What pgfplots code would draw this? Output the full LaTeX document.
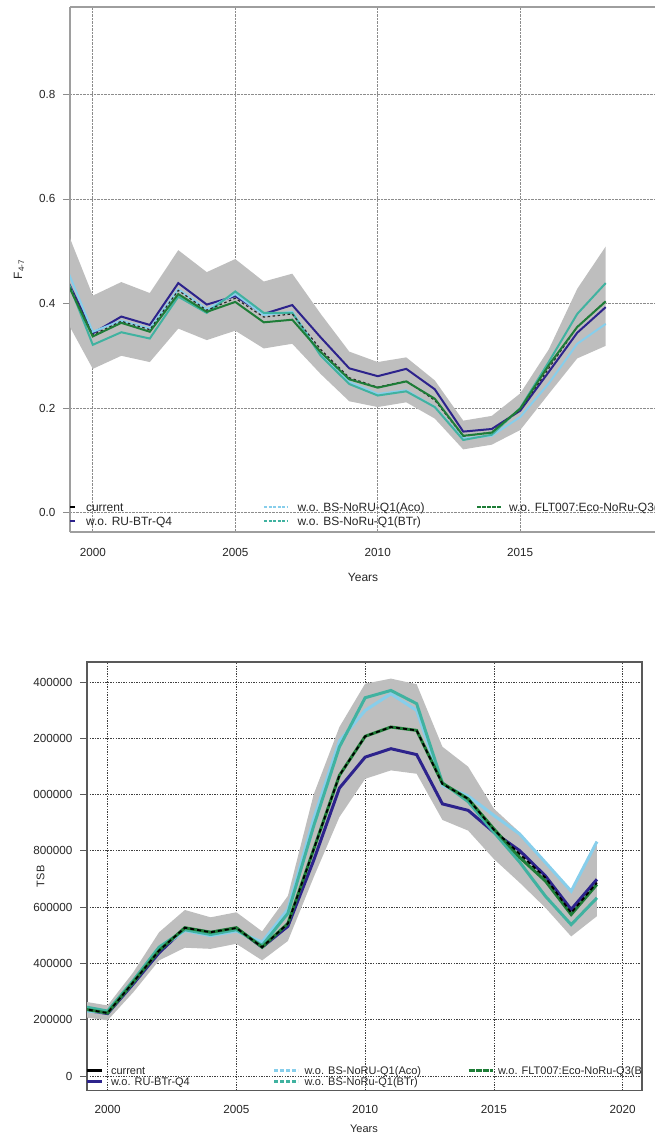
\documentclass[border=0pt]{standalone}
\usepackage{pgfplots}
\pgfplotsset{compat=1.18}
\usepackage{pgfplotstable}
\usepgfplotslibrary{fillbetween}
\usepackage{fontspec}
\setmainfont{Liberation Sans}
\definecolor{cRU}{RGB}{45,35,140}
\definecolor{cAco}{RGB}{135,206,235}
\definecolor{cBTr}{RGB}{64,178,160}
\definecolor{cFLT}{RGB}{30,125,55}
\definecolor{cBand}{RGB}{190,190,190}
\newcommand\strutT{\rule[-3.3pt]{0pt}{13.3pt}}
\newcommand\strutB{\rule[-2.8pt]{0pt}{11.3pt}}
\pgfplotsset{
  stubT/.style={legend image code/.code={\draw[##1] (19pt,0pt) -- (24pt,0pt);}},
  fullT/.style={legend image code/.code={\draw[##1] (0pt,0pt) -- (24pt,0pt);}},
  stubB/.style={legend image code/.code={\draw[##1] (9pt,0pt) -- (24pt,0pt);}},
  fullB/.style={legend image code/.code={\draw[##1] (0pt,0pt) -- (24pt,0pt);}},
}
\pgfplotstableread{
year cur ru aco btr flt lo hi
1999 0.455 0.457 0.478 0.460 0.451 0.375 0.552
2000 0.340 0.343 0.346 0.321 0.337 0.275 0.415
2001 0.366 0.375 0.367 0.345 0.363 0.300 0.441
2002 0.350 0.359 0.352 0.333 0.346 0.288 0.420
2003 0.425 0.439 0.427 0.413 0.418 0.352 0.502
2004 0.387 0.398 0.389 0.382 0.384 0.330 0.460
2005 0.410 0.414 0.418 0.423 0.403 0.348 0.485
2006 0.374 0.380 0.378 0.382 0.364 0.314 0.442
2007 0.380 0.397 0.384 0.382 0.369 0.323 0.457
2008 0.312 0.335 0.303 0.300 0.307 0.265 0.380
2009 0.258 0.276 0.250 0.246 0.255 0.213 0.308
2010 0.240 0.261 0.227 0.224 0.239 0.202 0.288
2011 0.252 0.275 0.234 0.232 0.251 0.211 0.297
2012 0.215 0.236 0.202 0.202 0.218 0.180 0.253
2013 0.146 0.155 0.142 0.139 0.147 0.121 0.176
2014 0.154 0.160 0.147 0.149 0.153 0.130 0.185
2015 0.197 0.195 0.183 0.200 0.199 0.158 0.228
2016 0.276 0.269 0.247 0.288 0.282 0.227 0.312
2017 0.355 0.344 0.323 0.380 0.355 0.295 0.428
2018 0.405 0.393 0.361 0.439 0.404 0.319 0.509
}\Ftab
\pgfplotstableread{
year cur ru aco btr flt lo hi
1999 240000 236000 232000 248000 239000 210000 266000
2000 224000 222000 226000 231000 224000 198000 251000
2001 334000 328000 335000 340000 334000 298000 369000
2002 446000 438000 452000 458000 446000 411000 511000
2003 527000 525000 517000 520000 527000 456000 590000
2004 511000 510000 499000 503000 511000 452000 564000
2005 526000 525000 515000 520000 527000 470000 582000
2006 458000 458000 476000 464000 458000 411000 514000
2007 542000 532000 592000 578000 542000 480000 640000
2008 805000 766000 914000 888000 805000 706000 1000000
2009 1068000 1023000 1190000 1169000 1068000 920000 1240000
2010 1207000 1133000 1299000 1344000 1207000 1056000 1394000
2011 1240000 1163000 1358000 1370000 1240000 1086000 1412000
2012 1228000 1142000 1299000 1323000 1228000 1074000 1392000
2013 1038000 967000 1033000 1042000 1040000 910000 1170000
2014 985000 944000 995000 975000 985000 872000 1099000
2015 875000 866000 926000 866000 878000 771000 950000
2016 789000 801000 860000 760000 777000 687000 866000
2017 705000 711000 759000 639000 693000 598000 753000
2018 580000 592000 657000 538000 574000 496000 663000
2019 687000 699000 833000 633000 681000 568000 836000
}\Btab
\begin{document}
\begin{tikzpicture}
% ---------------- top: F4-7 ----------------
\begin{axis}[
  at={(70pt,-532pt)}, anchor=south west,
  scale only axis, width=585pt, height=525pt,
  xmin=1999.2, xmax=2019.73, ymin=-0.037, ymax=0.967,
  axis x line*=box, axis y line*=left,
  axis line style={draw=black!38, line width=1.5pt},
  xtick={2000,2005,2010,2015}, xticklabels={2000,2005,2010,2015},
  ytick={0,0.2,0.4,0.6,0.8}, yticklabels={0.0,0.2,0.4,0.6,0.8},
  xmajorgrids, ymajorgrids,
  major grid style={densely dotted, black!45, line width=0.7pt},
  xtick style={draw=none}, ytick style={draw=black!45, line width=0.8pt},
  tick align=outside, major tick length=7pt,
  ticklabel style={font=\fontsize{11.7}{14}\selectfont, text=black!85},
  xticklabel style={yshift=-6pt},
  yticklabel style={xshift=-4pt},
  xlabel={Years}, ylabel={F\textsubscript{4-7}},
  xlabel style={at={(axis description cs:0.501,-0.0857)}, anchor=center, font=\fontsize{12}{14}\selectfont, text=black!85},
  ylabel style={at={(axis description cs:-0.0872,0.5)}, anchor=center, font=\fontsize{12}{14}\selectfont, text=black!85},
  legend columns=3, legend cell align=left,
  legend style={at={(axis description cs:0,0.0585)}, anchor=north west, xshift=-1pt, draw=none, fill=none,
    inner sep=0pt, outer sep=0pt, row sep=2.3pt, column sep=0pt,
    font=\fontsize{12}{13}\selectfont, text=black!85, nodes={inner sep=0pt, outer sep=0pt}},
]
\addplot[name path=hi, draw=none, forget plot] table[x=year,y=hi]{\Ftab};
\addplot[name path=lo, draw=none, forget plot] table[x=year,y=lo]{\Ftab};
\addplot[cBand, forget plot] fill between[of=hi and lo];
\addplot[cRU, line width=2pt, forget plot] table[x=year,y=ru]{\Ftab};
\addplot[cAco, line width=2pt, forget plot] table[x=year,y=aco]{\Ftab};
\addplot[cBTr, line width=2pt, forget plot] table[x=year,y=btr]{\Ftab};
\addplot[black!85, line width=1.2pt, dash pattern=on 2.5pt off 2.5pt, forget plot] table[x=year,y=cur]{\Ftab};
\addplot[cFLT, line width=2pt, forget plot] table[x=year,y=flt]{\Ftab};
\addlegendimage{stubT, black, line width=2pt}
\addlegendentry{\hspace*{10pt}\makebox[177pt][l]{\strutT current}}
\addlegendimage{fullT, cAco, line width=1.5pt, dash pattern=on 3pt off 1.5pt}
\addlegendentry{\hspace*{8.5pt}\makebox[178.5pt][l]{\strutT w.o. BS-NoRU-Q1(Aco)}}
\addlegendimage{fullT, cFLT, line width=2pt, dash pattern=on 4pt off 1pt}
\addlegendentry{\hspace*{7pt}\makebox[10pt][l]{\strutT w.o. FLT007:Eco-NoRu-Q3(B}}
\addlegendimage{stubT, cRU, line width=2pt}
\addlegendentry{\hspace*{10pt}\makebox[177pt][l]{\strutT w.o. RU-BTr-Q4}}
\addlegendimage{fullT, cBTr, line width=2pt, dash pattern=on 3pt off 1.5pt}
\addlegendentry{\hspace*{8.5pt}\makebox[178.5pt][l]{\strutT w.o. BS-NoRu-Q1(BTr)}}
\end{axis}
% ---------------- bottom: TSB ----------------
\begin{axis}[
  at={(87pt,-1090.7pt)}, anchor=south west,
  scale only axis, width=555pt, height=428.7pt,
  xmin=1999.2, xmax=2020.75, ymin=-52000, ymax=1471000,
  axis line style={draw=black!65, line width=1.5pt},
  xtick={2000,2005,2010,2015,2020}, xticklabels={2000,2005,2010,2015,2020},
  ytick={0,200000,400000,600000,800000,1000000,1200000,1400000},
  yticklabels={0,200000,400000,600000,800000,000000,200000,400000},
  scaled y ticks=false, ytick pos=left,
  xmajorgrids, ymajorgrids,
  major grid style={dash pattern=on 1.3pt off 1.3pt, black!75, line width=0.8pt},
  xtick style={draw=none}, ytick style={draw=black!65, line width=0.8pt},
  tick align=outside, major tick length=7pt,
  ticklabel style={font=\fontsize{11.7}{14}\selectfont, text=black!85},
  xticklabel style={yshift=-4pt},
  yticklabel style={xshift=-4pt},
  xlabel={Years}, ylabel={TSB},
  xlabel style={at={(axis description cs:0.499,-0.0893)}, anchor=center, font=\fontsize{11}{13}\selectfont, text=black!85},
  ylabel style={at={(axis description cs:-0.0836,0.5)}, anchor=center, font=\fontsize{11}{13}\selectfont, text=black!85},
  legend columns=3, legend cell align=left,
  legend style={at={(axis description cs:0,0.0588)}, anchor=north west, xshift=-1.5pt, draw=none, fill=none,
    inner sep=0pt, outer sep=0pt, row sep=1.3pt, column sep=0pt,
    font=\fontsize{11}{12}\selectfont, text=black!85, nodes={inner sep=0pt, outer sep=0pt}},
]
\addplot[name path=hi, draw=none, forget plot] table[x=year,y=hi]{\Btab};
\addplot[name path=lo, draw=none, forget plot] table[x=year,y=lo]{\Btab};
\addplot[cBand, forget plot] fill between[of=hi and lo];
\addplot[cRU, line width=3pt, forget plot] table[x=year,y=ru]{\Btab};
\addplot[cAco, line width=3pt, forget plot] table[x=year,y=aco]{\Btab};
\addplot[cBTr, line width=3pt, forget plot] table[x=year,y=btr]{\Btab};
\addplot[cFLT, line width=3pt, forget plot] table[x=year,y=flt]{\Btab};
\addplot[black, line width=1.8pt, dash pattern=on 4pt off 3pt, forget plot] table[x=year,y=cur]{\Btab};
\addlegendimage{stubB, black, line width=3pt}
\addlegendentry{\hspace*{7.5pt}\makebox[161.5pt][l]{\strutB current}}
\addlegendimage{fullB, cAco, line width=3pt, dash pattern=on 4pt off 2pt}
\addlegendentry{\hspace*{5.1pt}\makebox[162.5pt][l]{\strutB w.o. BS-NoRU-Q1(Aco)}}
\addlegendimage{fullB, cFLT, line width=3pt, dash pattern=on 6pt off 1pt}
\addlegendentry{\hspace*{3.9pt}\makebox[10pt][l]{\strutB w.o. FLT007:Eco-NoRu-Q3(B}}
\addlegendimage{stubB, cRU, line width=3pt}
\addlegendentry{\hspace*{7.5pt}\makebox[161.5pt][l]{\strutB w.o. RU-BTr-Q4}}
\addlegendimage{fullB, cBTr, line width=3pt, dash pattern=on 4pt off 2pt}
\addlegendentry{\hspace*{5.1pt}\makebox[162.5pt][l]{\strutB w.o. BS-NoRu-Q1(BTr)}}
\end{axis}
\pgfresetboundingbox
\path[use as bounding box] (0pt,0pt) rectangle (655pt,-1140pt);
\end{tikzpicture}
\end{document}
